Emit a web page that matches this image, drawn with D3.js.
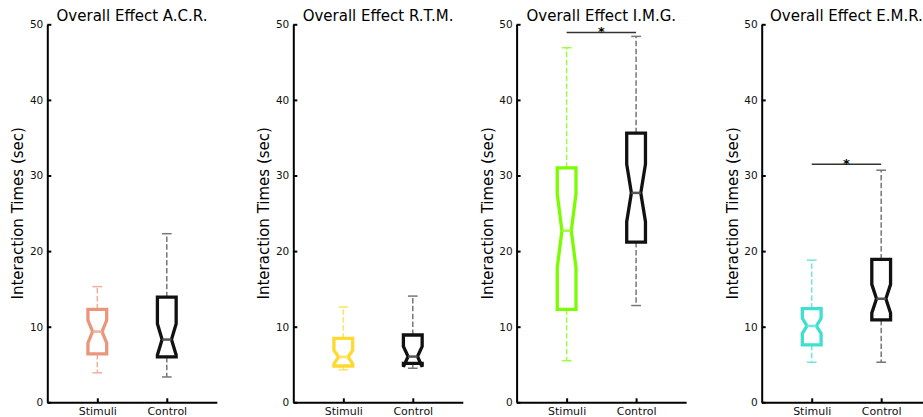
<!DOCTYPE html>
<html>
<head>
<meta charset="utf-8">
<script src="https://cdn.jsdelivr.net/npm/d3@7"></script>
<style>
  html, body { margin: 0; padding: 0; background: #fff; }
  svg { display: block; font-family: "DejaVu Sans", sans-serif; }
</style>
</head>
<body>
<svg id="chart" width="923" height="417"></svg>
<script>
// Panel titles, groups and per-panel box statistics (seconds)
const panelNames = ["A.C.R.", "R.T.M.", "I.M.G.", "E.M.R."];
const groups = ["Stimuli", "Control"];
const yTicks = [0, 10, 20, 30, 40, 50];
const stimuliColors = ["#E9967A", "#FFD92F", "#7CFC00", "#40E0D0"];
const controlColor = "#111111";

const stimuliWhiskerLow  = [3.9, 4.3, 5.5, 5.3];
const stimuliQ1          = [6.4, 4.8, 12.3, 7.6];
const stimuliNotchLow    = [7.85, 5.1, 17.8, 9.1];
const stimuliMedian      = [9.35, 6.0, 22.7, 10.1];
const stimuliNotchHigh   = [10.85, 6.9, 27.6, 11.1];
const stimuliQ3          = [12.3, 8.45, 31.0, 12.4];
const stimuliWhiskerHigh = [15.3, 12.6, 46.9, 18.8];

const controlWhiskerLow  = [3.35, 4.5, 12.8, 5.3];
const controlQ1          = [6.0, 5.15, 21.2, 10.9];
const controlNotchLow    = [6.25, 4.7, 23.9, 11.8];
const controlMedian      = [8.3, 6.05, 27.7, 13.7];
const controlNotchHigh   = [10.4, 7.4, 31.5, 15.6];
const controlQ3          = [13.9, 8.9, 35.6, 18.9];
const controlWhiskerHigh = [22.3, 14.05, 48.4, 30.7];

// Height of the significance bar (null = no bar)
const significanceLevel = [null, null, 48.9, 31.5];

const svg = d3.select("#chart");
const panelLeft = [47.3, 293.3, 516.6, 761.7];
const panelWidth = 169.5;
const yTop = 24.3, yBottom = 402.3;
const boxWidth = 0.27, capWidth = 0.14;

const y = d3.scaleLinear().domain([0, 50]).range([yBottom, yTop]);
const line = d3.line().x(d => d[0]).y(d => d[1]);

function drawBox(g, x, pos, s, color, whiskerColor, medianColor) {
  const cx = pos;
  const half = boxWidth / 2, notch = boxWidth / 4;
  const pts = [
    [cx - half, s.q1], [cx - half, s.nl], [cx - notch, s.med], [cx - half, s.nh],
    [cx - half, s.q3], [cx + half, s.q3], [cx + half, s.nh], [cx + notch, s.med],
    [cx + half, s.nl], [cx + half, s.q1]
  ].map(p => [x(p[0]), y(p[1])]);

  // whiskers and caps
  [[s.q3, s.wh], [s.q1, s.wl]].forEach(([a, b]) => {
    g.append("line")
      .attr("x1", x(cx)).attr("x2", x(cx))
      .attr("y1", y(a)).attr("y2", y(b))
      .attr("stroke", whiskerColor).attr("stroke-width", 1.5)
      .attr("stroke-dasharray", "5.5,2.4");
    g.append("line")
      .attr("x1", x(cx - capWidth / 2)).attr("x2", x(cx + capWidth / 2))
      .attr("y1", y(b)).attr("y2", y(b))
      .attr("stroke", whiskerColor).attr("stroke-width", 1.5);
  });

  // notched box outline
  g.append("path")
    .attr("d", line(pts) + "Z")
    .attr("fill", "none")
    .attr("stroke", color)
    .attr("stroke-width", 3.3)
    .attr("stroke-linejoin", "miter");

  // median
  g.append("line")
    .attr("x1", x(cx - notch)).attr("x2", x(cx + notch))
    .attr("y1", y(s.med)).attr("y2", y(s.med))
    .attr("stroke", medianColor).attr("stroke-width", 2.5);
}

panelNames.forEach((name, i) => {
  const left = panelLeft[i];
  const x = d3.scaleLinear().domain([0.28, 2.72]).range([left, left + panelWidth]);
  const g = svg.append("g");

  // y axis with inward ticks
  const ya = g.append("g")
    .attr("transform", `translate(${left},0)`)
    .call(d3.axisLeft(y).tickValues(yTicks).tickSizeInner(-4).tickSizeOuter(0).tickPadding(4));
  // x axis with inward ticks
  const xa = g.append("g")
    .attr("transform", `translate(0,${yBottom})`)
    .call(d3.axisBottom(x).tickValues([1, 2]).tickFormat(d => groups[d - 1])
      .tickSizeInner(-4).tickSizeOuter(0).tickPadding(5));

  [ya, xa].forEach(a => {
    a.attr("font-family", "DejaVu Sans, sans-serif");
    a.select(".domain").attr("stroke", "#000").attr("stroke-width", 2);
    a.selectAll(".tick line").attr("stroke", "#000").attr("stroke-width", 2);
    a.selectAll(".tick text").attr("fill", "#111");
  });
  ya.attr("font-size", 10.5);
  xa.attr("font-size", 11);

  // title
  g.append("text")
    .attr("x", left + panelWidth / 2).attr("y", 20.7)
    .attr("text-anchor", "middle")
    .attr("font-size", 15).attr("fill", "#000")
    .text("Overall Effect " + name);

  // y label
  g.append("text")
    .attr("transform", `translate(${left - 24},${(yTop + yBottom) / 2}) rotate(-90)`)
    .attr("text-anchor", "middle")
    .attr("font-size", 15).attr("fill", "#000")
    .text("Interaction Times (sec)");

  const stim = {
    wl: stimuliWhiskerLow[i], q1: stimuliQ1[i], nl: stimuliNotchLow[i], med: stimuliMedian[i],
    nh: stimuliNotchHigh[i], q3: stimuliQ3[i], wh: stimuliWhiskerHigh[i]
  };
  const ctrl = {
    wl: controlWhiskerLow[i], q1: controlQ1[i], nl: controlNotchLow[i], med: controlMedian[i],
    nh: controlNotchHigh[i], q3: controlQ3[i], wh: controlWhiskerHigh[i]
  };
  const sc = stimuliColors[i];
  const light = d3.interpolateRgb(sc, "#fff")(0.25);
  drawBox(g, x, 1, stim, sc, light, light);
  drawBox(g, x, 2, ctrl, controlColor, "#777", "#555");

  // significance marker
  if (significanceLevel[i] != null) {
    const ly = y(significanceLevel[i]);
    g.append("line")
      .attr("x1", x(1)).attr("x2", x(2))
      .attr("y1", ly).attr("y2", ly)
      .attr("stroke", "#333").attr("stroke-width", 1.5);
    g.append("text")
      .attr("x", (x(1) + x(2)) / 2).attr("y", ly + 3.5)
      .attr("text-anchor", "middle")
      .attr("font-size", 13).attr("font-weight", "bold").attr("fill", "#000")
      .text("*");
  }
});
</script>
</body>
</html>
